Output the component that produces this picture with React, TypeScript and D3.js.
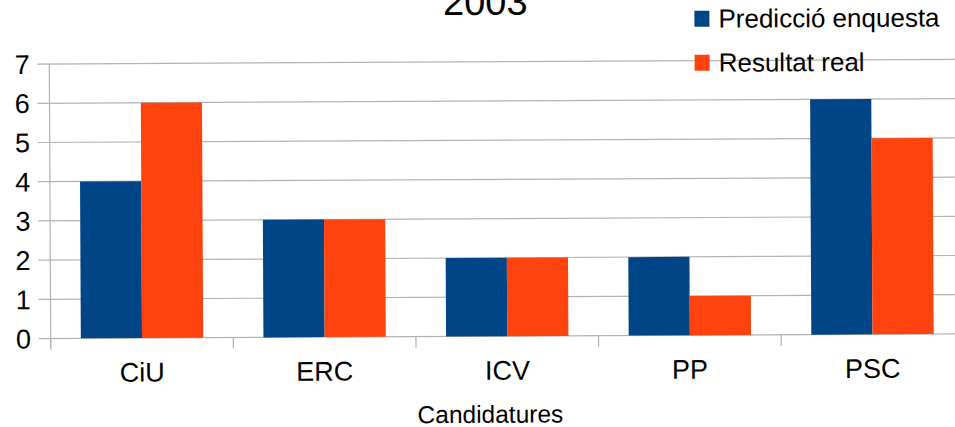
import React from "react";
import * as d3 from "d3";

const CATEGORIES = ["CiU", "ERC", "ICV", "PP", "PSC"];
const SERIES = ["Predicció enquesta", "Resultat real"];
const PREDICCIO = [4, 3, 2, 2, 6];
const RESULTAT = [6, 3, 2, 1, 5];
const Y_TICKS = [0, 1, 2, 3, 4, 5, 6, 7];

const COLORS = ["#004586", "#ff420e"];
const FONT = "'Liberation Sans', Arial, sans-serif";

const W = 955;
const H = 427;
const left = 50.7;
const right = 963.8;
const top = 64;
const bottom = 338.5;

export default function App() {
  const xCat = d3.scaleBand<string>().domain(CATEGORIES).range([left, right]).padding(0);
  const bw = xCat.bandwidth();
  const x1 = d3.scaleBand<string>().domain(SERIES).range([bw * 0.165, bw * 0.835]).padding(0);
  const y = d3.scaleLinear().domain([0, 7]).range([bottom, top]);
  const values = [PREDICCIO, RESULTAT];

  const boundaries = CATEGORIES.map((c) => xCat(c)!).concat([right]);

  return (
    <svg width={W} height={H} style={{ position: "absolute", left: 0, top: 0, background: "#fff" }}>
      <rect width={W} height={H} fill="#fff" />
      <g transform={`rotate(-0.29 ${left} ${bottom})`}>
        {/* title, cut off at the top */}
        <text x={487} y={17} textAnchor="middle" fontFamily={FONT} fontSize={38} fill="#000">2003</text>

        {/* gridlines */}
        {Y_TICKS.map((t) => (
          <line key={t} x1={left - 12} x2={right} y1={y(t)} y2={y(t)} stroke="#b3b3b3" strokeWidth={1.2} />
        ))}
        {/* y axis */}
        <line x1={left} x2={left} y1={top} y2={bottom + 11} stroke="#b3b3b3" strokeWidth={1.2} />
        {/* category ticks */}
        {boundaries.map((b, i) => (
          <line key={i} x1={b} x2={b} y1={bottom} y2={bottom + 11} stroke="#b3b3b3" strokeWidth={1.2} />
        ))}

        {/* bars */}
        {CATEGORIES.map((c, i) => (
          <g key={c} transform={`translate(${xCat(c)},0)`}>
            {SERIES.map((s, j) => (
              <rect
                key={s}
                x={x1(s)!}
                width={x1.bandwidth()}
                y={y(values[j][i])}
                height={y(0) - y(values[j][i])}
                fill={COLORS[j]}
              />
            ))}
          </g>
        ))}

        {/* y labels */}
        {Y_TICKS.map((t) => (
          <text key={t} x={31} y={y(t)} dy="0.36em" textAnchor="end" fontFamily={FONT} fontSize={27} fill="#000">
            {t}
          </text>
        ))}

        {/* category labels */}
        {CATEGORIES.map((c) => (
          <text key={c} x={xCat(c)! + bw / 2} y={382} textAnchor="middle" fontFamily={FONT} fontSize={27} fill="#000">
            {c}
          </text>
        ))}

        {/* axis title */}
        <text x={490} y={425} textAnchor="middle" fontFamily={FONT} fontSize={24.5} fill="#000">Candidatures</text>

        {/* legend */}
        {SERIES.map((s, j) => (
          <g key={s} transform={`translate(696,${14 + j * 44})`}>
            <rect width={15} height={16} fill={COLORS[j]} />
            <text x={24} y={17} fontFamily={FONT} fontSize={26} fill="#000">{s}</text>
          </g>
        ))}
      </g>
    </svg>
  );
}
